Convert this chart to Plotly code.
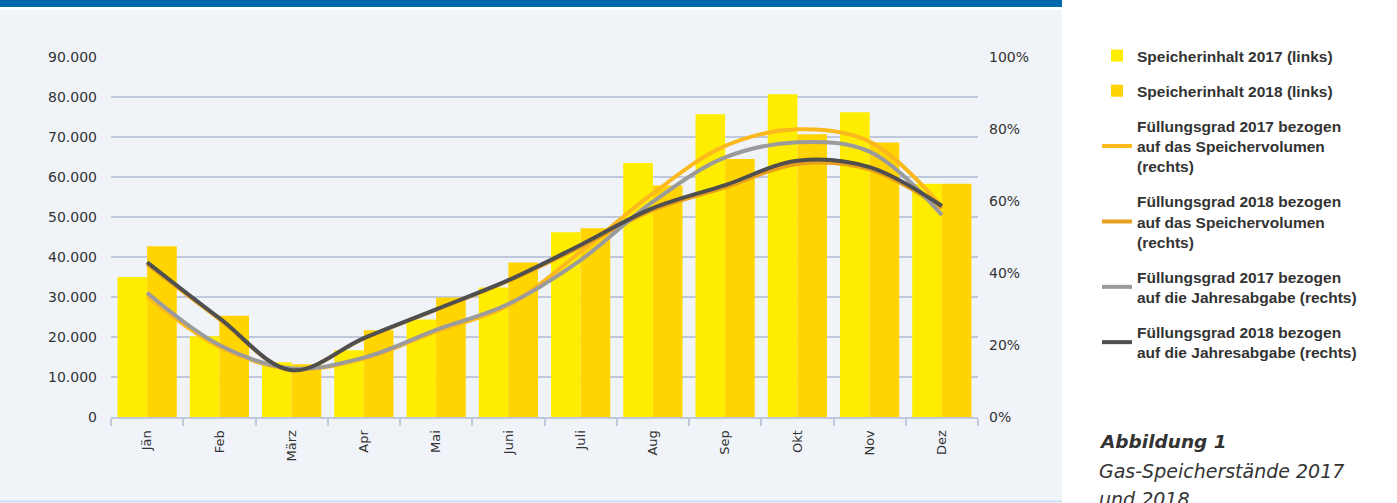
import plotly.graph_objects as go

months = ["Jän", "Feb", "März", "Apr", "Mai", "Juni", "Juli", "Aug", "Sep", "Okt", "Nov", "Dez"]

speicher_2017 = [35000, 20200, 13700, 16700, 24400, 32400, 46200, 63500, 75700, 80700, 76200, 58300]
speicher_2018 = [42700, 25300, 13200, 21700, 29900, 38600, 47200, 57900, 64500, 70700, 68600, 58300]

fg_vol_2017 = [33.5, 19.5, 13.3, 16.2, 23.8, 31.0, 45.9, 62.1, 75.3, 79.9, 76.5, 58.4]
fg_vol_2018 = [42.5, 27.2, 13.0, 21.8, 29.8, 37.8, 47.3, 57.5, 63.8, 70.3, 68.8, 58.0]
fg_abg_2017 = [34.5, 20.0, 13.5, 16.5, 24.2, 31.4, 43.6, 59.8, 72.1, 76.3, 73.7, 56.1]
fg_abg_2018 = [43.0, 27.5, 13.0, 21.9, 29.9, 38.0, 47.8, 58.0, 64.4, 71.2, 69.4, 58.6]

left_ticks = [0, 10000, 20000, 30000, 40000, 50000, 60000, 70000, 80000, 90000]
right_ticks = [0, 20, 40, 60, 80, 100]
right_tick_labels = ["0%", "20%", "40%", "60%", "80%", "100%"]

C_Y17 = "#FFED00"
C_Y18 = "#FFD400"
C_O17 = "#FBB91E"
C_O18 = "#E8A01C"
C_G17 = "#9B9B9B"
C_G18 = "#4F4F4F"
TXT = "#333333"
GRID = "#BFC9DB"

fig = go.Figure()
fig.add_trace(go.Bar(x=months, y=speicher_2017, name="Speicherinhalt 2017 (links)",
                     marker=dict(color=C_Y17, line=dict(width=0)), legendgroup="a"))
fig.add_trace(go.Bar(x=months, y=speicher_2018, name="Speicherinhalt 2018 (links)",
                     marker=dict(color=C_Y18, line=dict(width=0)), legendgroup="b"))

line_specs = [
    (fg_vol_2017, "Füllungsgrad 2017 bezogen<br>auf das Speichervolumen<br>(rechts)", C_O17, "c"),
    (fg_vol_2018, "Füllungsgrad 2018 bezogen<br>auf das Speichervolumen<br>(rechts)", C_O18, "d"),
    (fg_abg_2017, "Füllungsgrad 2017 bezogen<br>auf die Jahresabgabe (rechts)", C_G17, "e"),
    (fg_abg_2018, "Füllungsgrad 2018 bezogen<br>auf die Jahresabgabe (rechts)", C_G18, "f"),
]
for vals, nm, col, grp in line_specs:
    fig.add_trace(go.Scatter(x=months, y=vals, name=nm, yaxis="y2", mode="lines",
                             line=dict(color=col, width=4, shape="spline", smoothing=1.0),
                             legendgroup=grp))

L, R, T, B = 111, 419, 57, 86
W, H = 1397, 503
pw = W - L - R
ph = H - T - B

def px_x(x):
    return (x - L) / pw

def px_y(y):
    return (H - B - y) / ph

shapes = [
    dict(type="rect", xref="paper", yref="paper", x0=px_x(0), x1=px_x(1062), y0=px_y(501), y1=px_y(10),
         fillcolor="#F0F4F9", line=dict(width=0), layer="below"),
    dict(type="rect", xref="paper", yref="paper", x0=px_x(0), x1=px_x(1062), y0=px_y(7), y1=px_y(-5),
         fillcolor="#0069AC", line=dict(width=0), layer="below"),
    dict(type="line", xref="paper", yref="paper", x0=px_x(0), x1=px_x(1062), y0=px_y(501.5), y1=px_y(501.5),
         line=dict(color="#C9DDEE", width=2), layer="below"),
]

CAP_FONT = "DejaVu Sans"
annotations = [
    dict(text="<b><i>Abbildung 1</i></b>", xref="paper", yref="paper", x=px_x(1097), y=px_y(441),
         xanchor="left", yanchor="middle", showarrow=False, font=dict(size=18.5, color=TXT, family=CAP_FONT)),
    dict(text="<i>Gas-Speicherstände 2017</i>", xref="paper", yref="paper", x=px_x(1097), y=px_y(471),
         xanchor="left", yanchor="middle", showarrow=False, font=dict(size=19, color=TXT, family=CAP_FONT)),
    dict(text="<i>und 2018</i>", xref="paper", yref="paper", x=px_x(1097), y=px_y(499),
         xanchor="left", yanchor="middle", showarrow=False, font=dict(size=19, color=TXT, family=CAP_FONT)),
]

TICK_FONT = "DejaVu Sans"
fig.update_layout(
    width=W, height=H,
    margin=dict(l=L, r=R, t=T, b=B, autoexpand=False),
    paper_bgcolor="white",
    plot_bgcolor="#F0F4F9",
    separators=",.",
    barmode="group",
    bargap=0.18,
    bargroupgap=0,
    font=dict(family="Liberation Sans", color=TXT, size=13),
    shapes=shapes,
    annotations=annotations,
    legend=dict(
        xref="container", yref="container",
        x=1097 / W, y=1 - 39 / H, xanchor="left", yanchor="top",
        bgcolor="rgba(0,0,0,0)",
        font=dict(size=15.5, color=TXT, family="Liberation Sans", weight="bold"),
        tracegroupgap=12,
        itemwidth=30,
        traceorder="grouped",
        maxheight=470,
    ),
    xaxis=dict(
        type="category",
        tickangle=-90,
        tickfont=dict(size=13, family=TICK_FONT, color=TXT),
        showline=True, linecolor=GRID, linewidth=2,
        ticks="outside", tickson="boundaries", ticklen=7, tickcolor=GRID, tickwidth=1.5,
        ticklabelstandoff=6,
        showgrid=False,
    ),
    yaxis=dict(
        range=[0, 90000],
        tickvals=left_ticks,
        tickformat=",d",
        showgrid=True, gridcolor=GRID, gridwidth=2,
        zeroline=False,
        tickfont=dict(size=14, family=TICK_FONT, color=TXT),
        ticks="", ticklabelstandoff=13,
    ),
    yaxis2=dict(
        overlaying="y", side="right",
        range=[0, 100],
        tickvals=right_ticks,
        ticktext=right_tick_labels,
        showgrid=False, zeroline=False,
        tickfont=dict(size=14, family=TICK_FONT, color=TXT),
        ticks="", ticklabelstandoff=10,
    ),
)

fig.write_html("out.html", config={"displayModeBar": False},
               post_script="document.body.style.margin='0';document.body.style.padding='0';")
